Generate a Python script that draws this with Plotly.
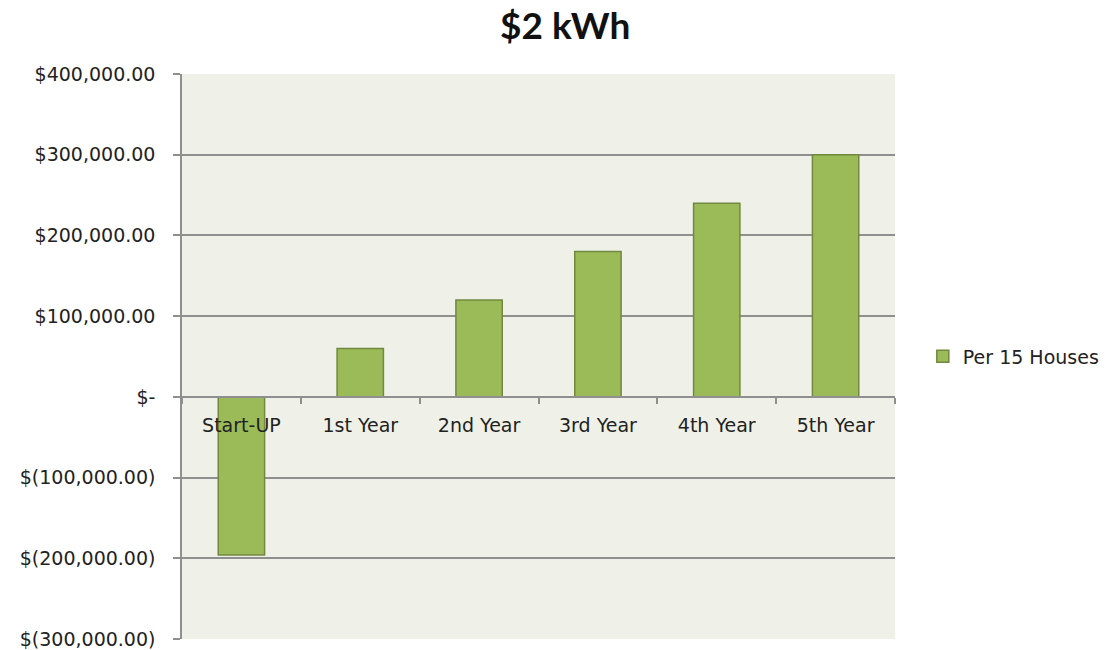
import plotly.graph_objects as go

categories = ["Start-UP", "1st Year", "2nd Year", "3rd Year", "4th Year", "5th Year"]
values = [-196000, 60000, 120000, 180000, 240000, 300000]
series_name = "Per 15 Houses"
title_text = "$2 kWh"
tick_vals = [400000, 300000, 200000, 100000, 0, -100000, -200000, -300000]
tick_text = ["$400,000.00", "$300,000.00", "$200,000.00", "$100,000.00", "$-",
             "$(100,000.00)", "$(200,000.00)", "$(300,000.00)"]

ymin, ymax = -300000, 400000
grid = "#8f8f8f"
font_fam = "DejaVu Sans"

fig = go.Figure()
fig.add_trace(go.Bar(
    x=categories, y=values, name=series_name,
    marker=dict(color="#9BBB59", line=dict(color="#71893F", width=1.5)),
    showlegend=True,
))

fig.update_layout(
    width=1117, height=650,
    paper_bgcolor="white", plot_bgcolor="#EFF1E8",
    margin=dict(l=182, r=222, t=74, b=11, autoexpand=False),
    title=dict(text="<b>" + title_text + "</b>", x=0.506, xanchor="center",
               y=0.96, yanchor="middle",
               font=dict(family="Lato", size=37, color="#111")),
    bargap=0.61,
    showlegend=True,
    legend=dict(x=1.039, y=0.5, xanchor="left", yanchor="middle",
                font=dict(family=font_fam, size=19, color="#222"),
                itemwidth=30, bgcolor="rgba(0,0,0,0)"),
    font=dict(family=font_fam, size=19, color="#222"),
)

fig.update_yaxes(
    range=[ymin, ymax], tickvals=tick_vals, ticktext=tick_text,
    showgrid=True, gridcolor=grid, gridwidth=1.5,
    showline=True, linecolor=grid, linewidth=1.5,
    ticks="outside", ticklen=7, tickcolor=grid, tickwidth=1.5,
    zeroline=False, ticklabelstandoff=14, automargin=False,
    tickfont=dict(family=font_fam, size=19, color="#222"),
)

fig.update_xaxes(
    anchor="free", position=(0 - ymin) / (ymax - ymin),
    showline=True, linecolor=grid, linewidth=1.5,
    ticks="outside", tickson="boundaries", ticklen=6, tickcolor=grid, tickwidth=1.5,
    showgrid=False, automargin=False, ticklabelstandoff=12,
    tickfont=dict(family=font_fam, size=19, color="#222"),
)

fig.write_html("out.html", config={"displayModeBar": False},
               post_script="document.body.style.margin='0';")
